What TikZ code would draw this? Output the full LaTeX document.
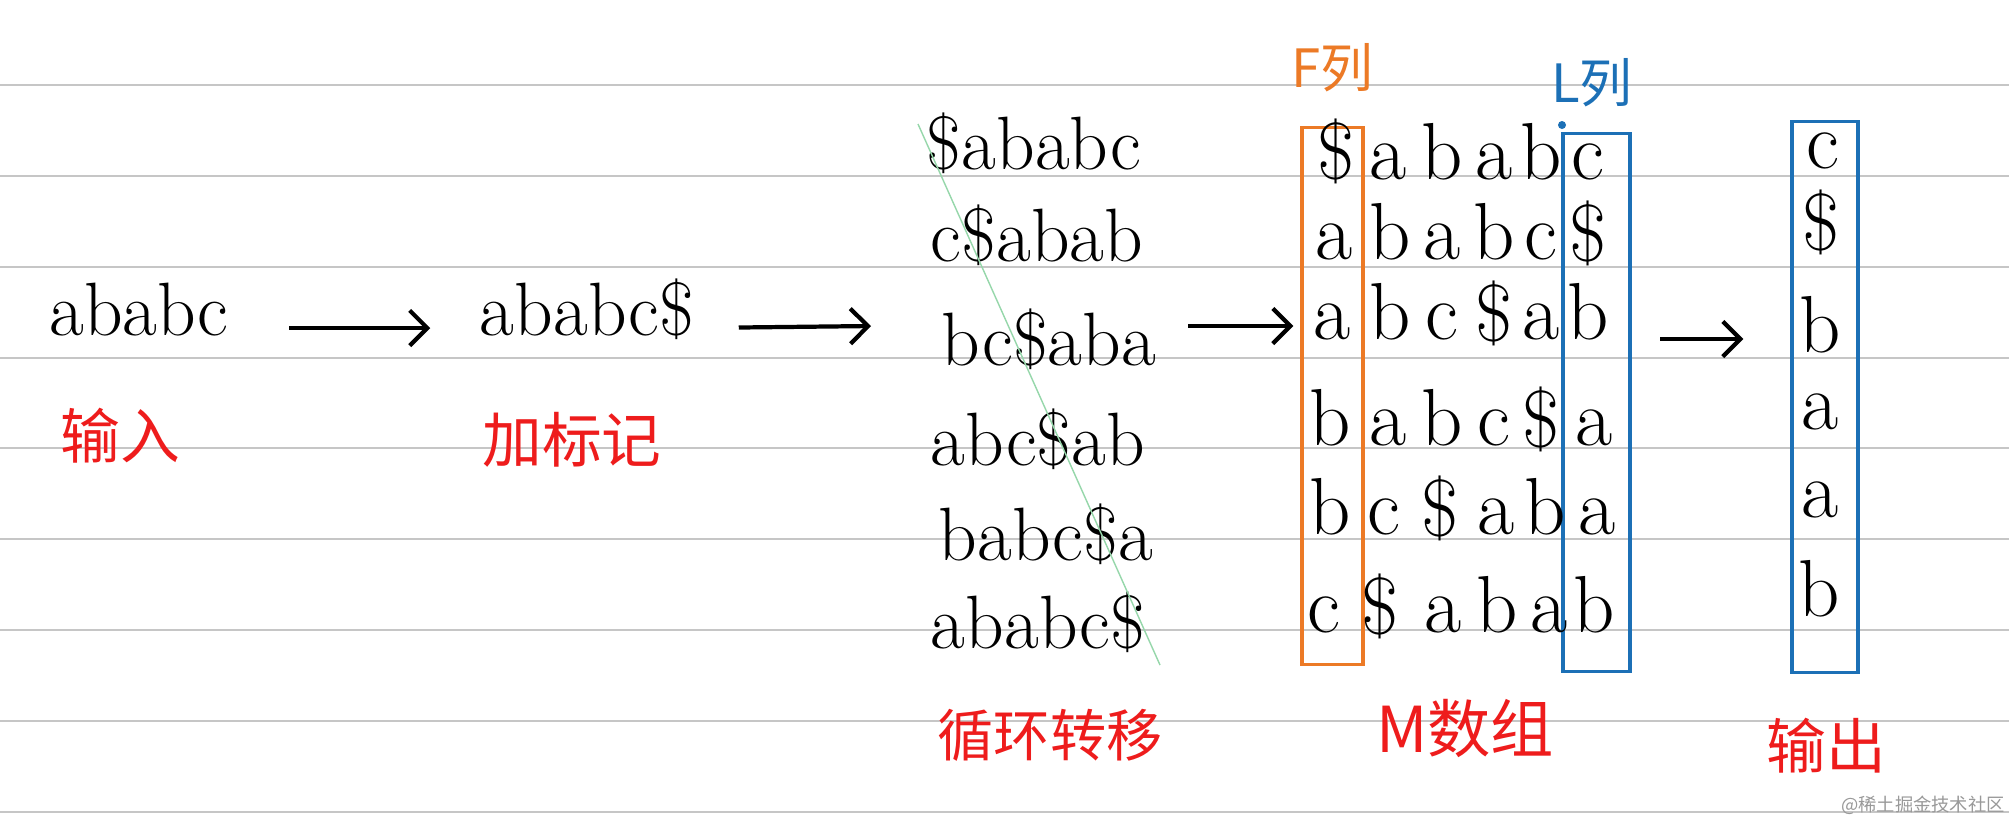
\documentclass[tikz,border=0pt]{standalone}
\usepackage{fontspec}
\newfontfamily\cjk{Noto Sans CJK SC}
\usetikzlibrary{arrows.meta}
\definecolor{rulegray}{RGB}{198,198,198}
\definecolor{notered}{RGB}{238,28,28}
\definecolor{forange}{RGB}{236,122,38}
\definecolor{lblue}{RGB}{28,112,182}
\definecolor{pencilgreen}{RGB}{150,215,170}
\tikzset{
  >={Straight Barb[length=5pt,width=10pt]},
  ruling/.style={draw=rulegray, line width=0.6pt},
  word/.style={font=\fontsize{21.5}{23}\selectfont, inner sep=0pt, anchor=mid},
  letter/.style={font=\fontsize{23}{25}\selectfont, inner sep=0pt, anchor=mid},
  redlabel/.style={text=notered, font=\cjk\fontsize{17}{20}\selectfont, inner sep=0pt},
  collabel/.style={font=\cjk\fontsize{15}{17}\selectfont, inner sep=0pt},
  flow/.style={->, line width=1.2pt},
  colbox/.style={draw, line width=0.9pt, inner sep=0pt},
}
\begin{document}
\begin{tikzpicture}[x=0.01cm, y=-0.01cm]
\fill[white] (0,0) rectangle (2009,820);
\useasboundingbox (0,0) rectangle (2009,820);
\draw[ruling] (0,85) -- (2009,85);
\draw[ruling] (0,176) -- (2009,176);
\draw[ruling] (0,267) -- (2009,267);
\draw[ruling] (0,358) -- (2009,358);
\draw[ruling] (0,448) -- (2009,448);
\draw[ruling] (0,539) -- (2009,539);
\draw[ruling] (0,630) -- (2009,630);
\draw[ruling] (0,721) -- (2009,721);
\draw[ruling] (0,812) -- (2009,812);

\node[word] (input) at (139,328) {ababc};
\node[word] (marked) at (587,328) {ababc\$};
\node[redlabel] (inlab) at (120,436) {输入};
\node[redlabel] (marklab) at (572,440) {加标记};
\draw[flow, shorten <=0.6cm, shorten >=0.49cm] (input.mid east) -- (marked.mid west);
\coordinate (rotin) at (871,326);
\draw[flow, shorten <=0.44cm] (marked.mid east) -- (rotin);

\node[word] (rot1) at (1034,162) {\$ababc};
\node[word] (rot2) at (1037,254) {c\$abab};
\node[word] (rot3) at (1049,358) {bc\$aba};
\node[word] (rot4) at (1038,458) {abc\$ab};
\node[word] (rot5) at (1046,553) {babc\$a};
\node[word] (rot6) at (1038,641) {ababc\$};
\draw[pencilgreen, line width=0.4pt] (918,124) -- (1160,665);
\node[redlabel, font=\cjk\fontsize{16}{18}\selectfont] (rotlab) at (1050,735) {循环转移};

\node[colbox, draw=forange, minimum width=0.61cm, minimum height=5.36cm] (fcol) at (1332.5,396) {};
\node[colbox, draw=lblue, minimum width=0.67cm, minimum height=5.37cm] (lcol) at (1596.5,402.5) {};
\node[collabel, text=forange] (flab) at (1332,68) {F列};
\node[collabel, text=lblue] (llab) at (1592,83) {L列};
\fill[lblue] (1562,125) circle (0.04cm);
\coordinate (sortin) at (1188,326);
\draw[flow, shorten >=0.07cm] (sortin) -- (sortin -| fcol.west);

\node[letter] (m11) at (1336,172) {\$};
\node[letter] (m12) at (1388,172) {a};
\node[letter] (m13) at (1442,172) {b};
\node[letter] (m14) at (1494,172) {a};
\node[letter] (m15) at (1541,172) {b};
\node[letter] (m16) at (1588,172) {c};
\node[letter] (m21) at (1334,252) {a};
\node[letter] (m22) at (1390,252) {b};
\node[letter] (m23) at (1442,252) {a};
\node[letter] (m24) at (1494,252) {b};
\node[letter] (m25) at (1541,252) {c};
\node[letter] (m26) at (1588,254) {\$};
\node[letter] (m31) at (1332,332) {a};
\node[letter] (m32) at (1390,332) {b};
\node[letter] (m33) at (1442,332) {c};
\node[letter] (m34) at (1494,334) {\$};
\node[letter] (m35) at (1541,332) {a};
\node[letter] (m36) at (1588,332) {b};
\node[letter] (m41) at (1330,438) {b};
\node[letter] (m42) at (1388,438) {a};
\node[letter] (m43) at (1442,438) {b};
\node[letter] (m44) at (1494,438) {c};
\node[letter] (m45) at (1541,440) {\$};
\node[letter] (m46) at (1594,438) {a};
\node[letter] (m51) at (1330,527) {b};
\node[letter] (m52) at (1384,527) {c};
\node[letter] (m53) at (1440,529) {\$};
\node[letter] (m54) at (1496,527) {a};
\node[letter] (m55) at (1545,527) {b};
\node[letter] (m56) at (1597,527) {a};
\node[letter] (m61) at (1324,625) {c};
\node[letter] (m62) at (1380,627) {\$};
\node[letter] (m63) at (1443,625) {a};
\node[letter] (m64) at (1497,625) {b};
\node[letter] (m65) at (1549,625) {a};
\node[letter] (m66) at (1594,625) {b};
\node[redlabel, font=\cjk\fontsize{18}{20}\selectfont] (mlab) at (1465,728) {M数组};

\node[colbox, draw=lblue, minimum width=0.66cm, minimum height=5.50cm] (outbox) at (1825,397) {};
\coordinate (outin) at (1660,339);
\draw[flow, shorten >=0.47cm] (outin) -- (outin -| outbox.west);
\node[letter] (o1) at (1823,161) {c};
\node[letter] (o2) at (1821,243) {\$};
\node[letter] (o3) at (1820,345) {b};
\node[letter] (o4) at (1820,422) {a};
\node[letter] (o5) at (1820,510) {a};
\node[letter] (o6) at (1819,609) {b};
\node[redlabel] (outlab) at (1826,746) {输出};

\node[font=\cjk\fontsize{5.2}{6}\selectfont, text=black!40, inner sep=0pt] (wmark) at (1923,805) {@稀土掘金技术社区};
\end{tikzpicture}
\end{document}
